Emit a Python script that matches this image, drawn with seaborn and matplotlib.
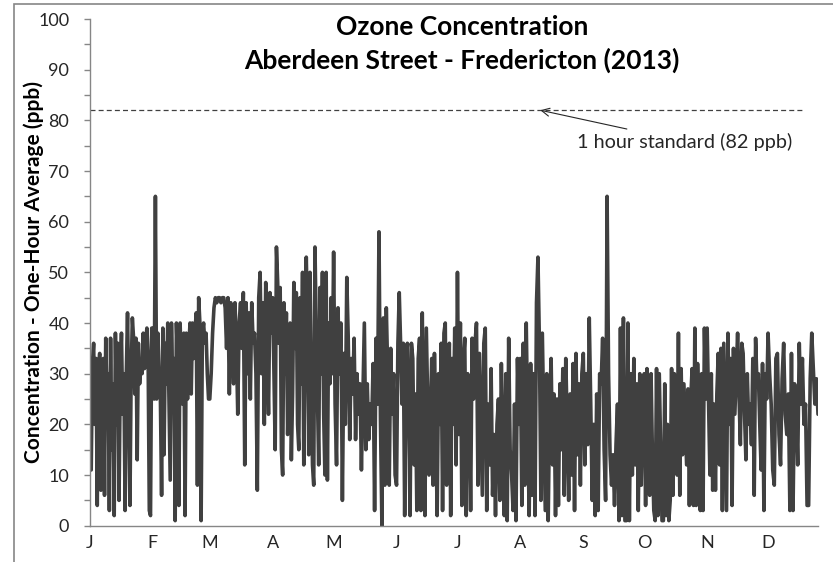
import numpy as np
import pandas as pd
import matplotlib
matplotlib.use('Agg')
import matplotlib.pyplot as plt
from matplotlib.patches import Rectangle
from matplotlib.ticker import MultipleLocator
import seaborn as sns

# Month axis
month_labels = ['J', 'F', 'M', 'A', 'M', 'J', 'J', 'A', 'S', 'O', 'N', 'D']
month_start_day = [0, 31, 59, 90, 120, 151, 181, 212, 243, 273, 304, 334]
last_day = 358.6
standard_ppb = 82

# One-hour ozone readings (ppb)
jan = [28, 11, 32, 36, 20, 33, 4, 30, 34, 7, 26, 33, 6, 37, 24, 30, 3, 37, 15, 28,
       2, 38, 20, 36, 5, 30, 38, 22, 30, 3, 30, 42, 25, 4, 30, 41, 37, 26, 37, 13,
       36, 28, 32, 30, 38, 31, 36, 39, 34, 3, 2, 39]
feb = [39, 25, 65, 25, 38, 30, 26, 6, 39, 14, 36, 28, 40, 25, 9, 40, 28, 33, 1, 40,
       32, 4, 40, 30, 24, 38, 2, 38, 25, 35, 40, 26, 40, 33, 38, 42, 8, 45, 40, 1,
       38, 40, 36, 38, 30, 25]
mar = [25, 30, 38, 43, 45, 44, 45, 45, 44, 45, 45, 43, 35, 45, 26, 44, 38, 28, 44, 36,
       22, 40, 44, 35, 46, 12, 44, 30, 42, 25, 44, 36, 38, 30, 7, 45, 50, 30, 44, 20,
       48, 36, 22, 46, 38]
apr = [45, 30, 15, 55, 48, 36, 47, 15, 10, 44, 30, 42, 18, 30, 40, 13, 26, 48, 35, 46,
       20, 15, 45, 28, 50, 12, 35, 53, 41, 14, 50, 30, 12, 8, 55, 39, 25, 12, 47, 30,
       50, 22, 10, 50, 9, 40, 28, 45, 30]
may = [54, 24, 12, 43, 30, 40, 5, 34, 20, 49, 37, 17, 33, 26, 37, 17, 30, 22, 28, 11,
       25, 40, 15, 28, 17, 24, 20, 32, 3, 37, 24, 58, 21, 0, 41, 8, 43, 30, 8, 35,
       22, 30, 10]
jun = [8, 36, 46, 36, 24, 36, 2, 30, 36, 22, 2, 36, 33, 12, 26, 3, 33, 37, 3, 42,
       20, 2, 39, 24, 10, 22, 33, 8, 34, 20, 2, 30, 20, 36, 3, 38, 40, 8, 26, 36,
       2, 33, 20, 39, 12]
jul = [50, 18, 40, 4, 32, 37, 2, 30, 28, 3, 37, 25, 36, 40, 8, 34, 20, 6, 36, 39,
       3, 24, 12, 31, 6, 18, 2, 20, 25, 5, 32, 15, 2, 30, 1, 37, 15, 10, 3, 24,
       1, 33, 20]
aug = [33, 4, 36, 8, 40, 20, 2, 32, 6, 30, 2, 44, 53, 36, 5, 38, 20, 3, 30, 1,
       24, 33, 12, 26, 2, 25, 4, 28, 15, 31, 6, 33, 20, 5, 26, 10, 32, 3, 34, 14,
       28, 8, 30]
sep = [34, 12, 30, 16, 41, 24, 5, 20, 2, 26, 3, 30, 28, 37, 15, 5, 65, 30, 14, 8,
       14, 4, 16, 24, 1, 39, 2, 41, 1, 1, 40, 1, 30, 10, 33, 12, 28, 3, 30, 8, 25]
oct_ = [30, 4, 31, 20, 6, 30, 14, 3, 1, 31, 2, 30, 15, 1, 1, 28, 2, 20, 1, 5,
        31, 6, 30, 18, 10, 38, 6, 31, 14, 28, 20, 12, 27, 4, 25, 31, 4, 39, 4, 32,
        20, 3, 30, 3, 39, 25]
nov = [39, 25, 10, 30, 7, 24, 7, 26, 34, 12, 35, 3, 36, 20, 3, 38, 20, 33, 4, 35,
       22, 30, 38, 26, 16, 36, 34, 22, 13, 30, 20, 24, 16, 33, 6, 37, 28, 30, 20, 11,
       32, 3, 30, 25]
dec = [38, 30, 24, 11, 8, 33, 34, 18, 12, 29, 36, 22, 18, 26, 3, 34, 3, 28, 24, 12,
       36, 24, 33, 20, 24, 4, 4, 29, 38, 31, 24, 29, 22]

monthly_values = [jan, feb, mar, apr, may, jun, jul, aug, sep, oct_, nov, dec]

# spread each month's readings evenly over that month
days, ozone = [], []
for i, vals in enumerate(monthly_values):
    start = month_start_day[i]
    if i < 11:
        d = start + (month_start_day[i + 1] - start) * np.arange(len(vals)) / len(vals)
    else:
        d = np.linspace(start, last_day, len(vals))
    days.extend(d)
    ozone.extend(vals)
df = pd.DataFrame({'day': days, 'ozone': ozone})

sns.set_theme(style='white')
plt.rcParams['font.family'] = ['Lato', 'DejaVu Sans']

txt = '#262626'
grey = '#868686'

fig = plt.figure(figsize=(8.33, 5.62), dpi=100)
fig.patch.set_facecolor('white')
# outer chart frame
fig.add_artist(Rectangle((14 / 833, -0.1), 1.2, 0.1 + (562 - 4) / 562,
                         transform=fig.transFigure, fill=False,
                         edgecolor=grey, linewidth=1.2))

ax = fig.add_axes([90 / 833, 36.3 / 562, 728 / 833, 506.7 / 562])
sns.lineplot(data=df, x='day', y='ozone', ax=ax, color='#404040',
             linewidth=2.6, estimator=None, sort=False)

ax.axhline(standard_ppb, xmin=0, xmax=0.982, color='#404040',
           linewidth=0.9, linestyle=(0, (4, 2.5)))
ax.annotate('1 hour standard (82 ppb)', xy=(221.8, standard_ppb),
            xytext=(240, 75.8), ha='left', va='center', fontsize=14.3, color=txt,
            arrowprops=dict(arrowstyle='->', color='#262626', lw=0.8,
                            shrinkA=1, shrinkB=0))

ax.set_xlim(0, last_day)
ax.set_ylim(0, 100)
ax.set_xticks(month_start_day)
ax.set_xticklabels(month_labels)
ax.yaxis.set_major_locator(MultipleLocator(10))
ax.yaxis.set_minor_locator(MultipleLocator(5))
ax.tick_params(axis='y', which='both', direction='out', length=4, width=1,
               color=grey, labelsize=13, labelcolor=txt, pad=11, left=True)
ax.tick_params(axis='x', length=0, labelsize=13, labelcolor=txt, pad=7)

ax.set_xlabel('')
ax.set_ylabel('Concentration - One-Hour Average (ppb)', fontsize=15,
              fontweight='bold', color='black', labelpad=-4)

for side in ['top', 'right']:
    ax.spines[side].set_visible(False)
for side in ['left', 'bottom']:
    ax.spines[side].set_color(grey)
    ax.spines[side].set_linewidth(1)

fig.text(462 / 833, 1 - 27 / 562, 'Ozone Concentration', ha='center', va='center',
         fontsize=19, fontweight='bold', color='black')
fig.text(462 / 833, 1 - 60 / 562, 'Aberdeen Street - Fredericton (2013)', ha='center',
         va='center', fontsize=19, fontweight='bold', color='black')

fig.savefig('out.png', dpi=100)
